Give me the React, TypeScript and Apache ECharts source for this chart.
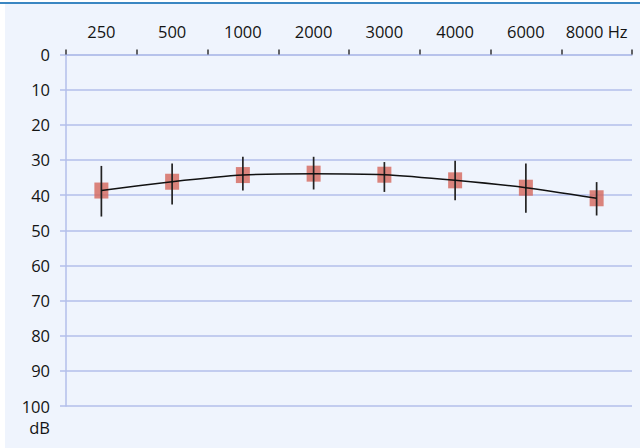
import React, { useEffect, useRef } from "react";
import * as echarts from "echarts";

const frequencies = ["250", "500", "1000", "2000", "3000", "4000", "6000", "8000 Hz"];
const meanLevels = [38.7, 36.2, 34.3, 33.9, 34.2, 35.8, 37.9, 40.9];
const lowBounds = [31.7, 31.0, 29.1, 29.1, 30.6, 30.2, 31.0, 36.3];
const highBounds = [46.1, 42.7, 38.7, 38.4, 39.1, 41.5, 45.0, 45.8];
const yTicks = [0, 10, 20, 30, 40, 50, 60, 70, 80, 90, 100];

const FONT = "'Open Sans', 'Noto Sans', sans-serif";
const GRID_COLOR = "#b3bfea";
const TEXT_COLOR = "#141414";
const FS = 16.5;

export default function App() {
  const ref = useRef<HTMLDivElement>(null);

  useEffect(() => {
    document.body.style.margin = "0";
    if (!ref.current) return;
    const chart = echarts.init(ref.current, undefined, { renderer: "svg" });
    const errData = frequencies.map((_, i) => [i, lowBounds[i], highBounds[i]]);
    chart.setOption({
      animation: false,
      graphic: [
        { type: "rect", shape: { x: 5, y: 4, width: 635, height: 444 }, style: { fill: "#eff4fd" }, z: -10 },
        { type: "rect", shape: { x: 0, y: 2, width: 640, height: 2 }, style: { fill: "#3a86c2" }, z: -9 },
        {
          type: "text",
          x: 50,
          y: 427,
          style: { text: "dB", fontSize: FS, fontFamily: FONT, fill: TEXT_COLOR, align: "right", verticalAlign: "middle" },
        },
      ],
      grid: { left: 66, right: 8, top: 54.5, bottom: 42 },
      xAxis: {
        type: "category",
        position: "top",
        data: frequencies,
        boundaryGap: true,
        axisLine: { show: true, lineStyle: { color: GRID_COLOR, width: 1.5 } },
        axisTick: { show: true, interval: 0, length: 5, lineStyle: { color: "#333", width: 1.5 } },
        axisLabel: { interval: 0, fontSize: FS, fontFamily: FONT, color: TEXT_COLOR, margin: 15 },
        splitLine: { show: false },
      },
      yAxis: {
        type: "value",
        inverse: true,
        min: yTicks[0],
        max: yTicks[yTicks.length - 1],
        interval: 10,
        axisLine: { show: true, lineStyle: { color: GRID_COLOR, width: 1.5 } },
        axisTick: { show: true, length: 6, lineStyle: { color: GRID_COLOR, width: 1.5 } },
        axisLabel: { fontSize: FS, fontFamily: FONT, color: TEXT_COLOR, margin: 16 },
        splitLine: { show: true, lineStyle: { color: GRID_COLOR, width: 1.5 } },
      },
      series: [
        {
          type: "scatter",
          data: meanLevels,
          symbol: "rect",
          symbolSize: [14, 16],
          itemStyle: { color: "#d4675b" },
          z: 2,
        },
        {
          type: "custom",
          data: errData,
          z: 3,
          renderItem: (params: any, api: any) => {
            const x = api.value(0);
            const p1 = api.coord([x, api.value(1)]);
            const p2 = api.coord([x, api.value(2)]);
            return {
              type: "line",
              shape: { x1: p1[0], y1: p1[1], x2: p2[0], y2: p2[1] },
              style: { stroke: "#222", lineWidth: 1.7 },
            };
          },
        },
        {
          type: "line",
          data: meanLevels,
          smooth: 0.2,
          showSymbol: false,
          lineStyle: { color: "#111", width: 1.5 },
          z: 4,
        },
      ],
    });
    return () => chart.dispose();
  }, []);

  return <div ref={ref} style={{ width: 640, height: 448 }} />;
}
